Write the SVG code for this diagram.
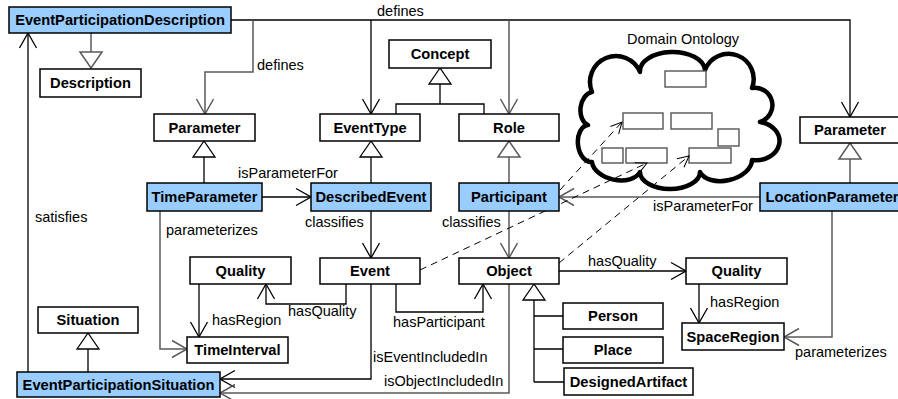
<svg xmlns="http://www.w3.org/2000/svg" width="898" height="399" viewBox="0 0 898 399">
<defs>
<style>
.n rect{fill:#fff;stroke:#000;stroke-width:1.5}
.n.b rect{fill:#99ccff}
.n text{font-family:"Liberation Sans",Arial,sans-serif;font-weight:bold;font-size:14.7px;text-anchor:middle;fill:#000}
.c{fill:none;stroke:#000;stroke-width:1.3}
.g{fill:none;stroke:#5a5a5a;stroke-width:1.5}
.d{fill:none;stroke:#000;stroke-width:1;stroke-dasharray:7 5}
.l{font-family:"Liberation Sans",Arial,sans-serif;font-size:14.5px;fill:#000}
.ir{fill:#fff;stroke:#555;stroke-width:1.4}
</style>
<marker id="ab" viewBox="-17 -10 18 20" refX="0" refY="0" markerWidth="18" markerHeight="20" markerUnits="userSpaceOnUse" orient="auto"><path d="M-15,-8.5 L0,0 L-15,8.5" fill="none" stroke="#000" stroke-width="1.3"/></marker>
<marker id="ag" viewBox="-17 -10 18 20" refX="0" refY="0" markerWidth="18" markerHeight="20" markerUnits="userSpaceOnUse" orient="auto"><path d="M-15,-8.5 L0,0 L-15,8.5" fill="none" stroke="#5a5a5a" stroke-width="1.5"/></marker>
<marker id="as" viewBox="-12 -7 13 14" refX="0" refY="0" markerWidth="13" markerHeight="14" markerUnits="userSpaceOnUse" orient="auto"><path d="M-11,-5.5 L0,0 L-11,5.5" fill="none" stroke="#000" stroke-width="1"/></marker>
<marker id="tb" viewBox="-18 -13 19 26" refX="0" refY="0" markerWidth="19" markerHeight="26" markerUnits="userSpaceOnUse" orient="auto"><path d="M0,0 L-16,-11 L-16,11 Z" fill="#fff" stroke="#000" stroke-width="1.3"/></marker>
<marker id="tg" viewBox="-18 -13 19 26" refX="0" refY="0" markerWidth="19" markerHeight="26" markerUnits="userSpaceOnUse" orient="auto"><path d="M0,0 L-16,-11 L-16,11 Z" fill="#fff" stroke="#5a5a5a" stroke-width="1.5"/></marker>
</defs>
<rect width="898" height="399" fill="#fff"/>

<g id="cloud">
<path d="M592,92 A26 26 0 0 1 640,72 A32.5 19 0 0 1 705,70 A25 25 0 0 1 752,88 A17.5 17.5 0 0 1 760,122 A19.5 16 0 0 1 752,160 A27 17 -13 0 1 700,172 A30 17 0 0 1 640,172 A25 16 12 0 1 592,162 A18.5 12 84 0 1 588,125 A17 12 -83 0 1 592,92 Z" fill="#fff" stroke="#000" stroke-width="4.5" stroke-linejoin="round"/>
<text class="l" x="627" y="44">Domain Ontology</text>
<rect class="ir" x="665" y="71" width="41" height="16"/>
<rect class="ir" x="623" y="113" width="40" height="16"/>
<rect class="ir" x="671" y="113" width="41" height="16"/>
<rect class="ir" x="718" y="129" width="21" height="17"/>
<rect class="ir" x="602" y="148" width="21" height="15"/>
<rect class="ir" x="626" y="148" width="41" height="15"/>
<rect class="ir" x="689" y="148" width="42" height="15"/>
</g>

<g id="connectors">
<path class="c" d="M231,20 H850 V117" marker-end="url(#ab)"/>
<path class="c" d="M371,20 V114" marker-end="url(#ab)"/>
<path class="g" d="M253,20 V72 H205 V114" marker-end="url(#ag)"/>
<path class="g" d="M509,20 V114" marker-end="url(#ag)"/>
<path class="g" d="M91,33 V68" marker-end="url(#tg)"/>
<path class="c" d="M396,114 V104 H484 V114"/>
<path class="c" d="M440,104 V68" marker-end="url(#tb)"/>
<path class="c" d="M204,183 V141" marker-end="url(#tb)"/>
<path class="c" d="M371,183 V141" marker-end="url(#tb)"/>
<path class="g" d="M509,183 V141" marker-end="url(#tg)"/>
<path class="g" d="M850,183 V143" marker-end="url(#tg)"/>
<path class="c" d="M88,372 V333" marker-end="url(#tb)"/>
<path class="c" d="M534,382 V284" marker-end="url(#tb)"/>
<path class="c" d="M534,316 H563 M534,349 H563 M534,382 H564"/>
<path class="c" d="M262,197 H311" marker-end="url(#ab)"/>
<path class="g" d="M760,197 H559" marker-end="url(#ag)"/>
<path class="g" d="M160,211 V349 H187" marker-end="url(#ag)"/>
<path class="c" d="M371,211 V258" marker-end="url(#ab)"/>
<path class="g" d="M509,211 V258" marker-end="url(#ag)"/>
<path class="c" d="M346,284 V304 H266 V284" marker-end="url(#ab)"/>
<path class="c" d="M199,284 V337" marker-end="url(#ab)"/>
<path class="c" d="M396,284 V312 H483 V284" marker-end="url(#ab)"/>
<path class="c" d="M371,284 V379 H220" marker-end="url(#ab)"/>
<path class="g" d="M509,284 V393 H220" marker-end="url(#ag)"/>
<path class="c" d="M28,372 V33" marker-end="url(#ab)"/>
<path class="c" d="M559,271 H686" marker-end="url(#ab)"/>
<path class="c" d="M699,284 V323" marker-end="url(#ab)"/>
<path class="g" d="M832,211 V337 H784" marker-end="url(#ag)"/>
<path class="d" d="M560,190 L622,122" marker-end="url(#as)"/>
<path class="d" d="M420,270 L647,163" marker-end="url(#as)"/>
<path class="d" d="M559,263 L689,156" marker-end="url(#as)"/>
<text class="l" x="377" y="16">defines</text>
<text class="l" x="257" y="70">defines</text>
<text class="l" x="238" y="178">isParameterFor</text>
<text class="l" x="166" y="235">parameterizes</text>
<text class="l" x="35" y="222">satisfies</text>
<text class="l" x="305" y="227">classifies</text>
<text class="l" x="442" y="227">classifies</text>
<text class="l" x="288" y="316">hasQuality</text>
<text class="l" x="212" y="325">hasRegion</text>
<text class="l" x="393" y="327">hasParticipant</text>
<text class="l" x="373" y="362">isEventIncludedIn</text>
<text class="l" x="384" y="386">isObjectIncludedIn</text>
<text class="l" x="588" y="266">hasQuality</text>
<text class="l" x="710" y="307">hasRegion</text>
<text class="l" x="795" y="357">parameterizes</text>
<text class="l" x="653" y="211">isParameterFor</text>
</g>

<g id="EventParticipationDescription" class="n b"><rect x="9" y="7" width="222" height="26"/><text x="120" y="25">EventParticipationDescription</text></g>
<g id="Description" class="n"><rect x="40" y="69" width="101" height="28"/><text x="90.5" y="88">Description</text></g>
<g id="ParameterL" class="n"><rect x="154" y="114" width="101" height="27"/><text x="204.5" y="132.5">Parameter</text></g>
<g id="Concept" class="n"><rect x="389" y="40" width="102" height="28"/><text x="440" y="59">Concept</text></g>
<g id="EventType" class="n"><rect x="320" y="114" width="100" height="27"/><text x="370" y="132.5">EventType</text></g>
<g id="Role" class="n"><rect x="459" y="114" width="100" height="27"/><text x="509" y="132.5">Role</text></g>
<g id="ParameterR" class="n"><rect x="800" y="117" width="100" height="26"/><text x="850" y="135">Parameter</text></g>
<g id="TimeParameter" class="n b"><rect x="147" y="183" width="115" height="28"/><text x="204.5" y="202">TimeParameter</text></g>
<g id="DescribedEvent" class="n b"><rect x="311" y="183" width="120" height="28"/><text x="371" y="202">DescribedEvent</text></g>
<g id="Participant" class="n b"><rect x="459" y="183" width="100" height="28"/><text x="509" y="202">Participant</text></g>
<g id="LocationParameter" class="n b"><rect x="760" y="183" width="144" height="28"/><text x="832" y="202">LocationParameter</text></g>
<g id="QualityL" class="n"><rect x="190" y="257" width="101" height="27"/><text x="240.5" y="275.5">Quality</text></g>
<g id="Event" class="n"><rect x="320" y="258" width="100" height="26"/><text x="370" y="276">Event</text></g>
<g id="Object" class="n"><rect x="459" y="258" width="100" height="26"/><text x="509" y="276">Object</text></g>
<g id="QualityR" class="n"><rect x="686" y="258" width="101" height="26"/><text x="736.5" y="276">Quality</text></g>
<g id="Person" class="n"><rect x="563" y="303" width="100" height="26"/><text x="613" y="321">Person</text></g>
<g id="Place" class="n"><rect x="563" y="337" width="100" height="26"/><text x="613" y="355">Place</text></g>
<g id="DesignedArtifact" class="n"><rect x="564" y="368" width="129" height="27"/><text x="628.5" y="386.5">DesignedArtifact</text></g>
<g id="SpaceRegion" class="n"><rect x="682" y="323" width="102" height="27"/><text x="733" y="341.5">SpaceRegion</text></g>
<g id="Situation" class="n"><rect x="38" y="307" width="100" height="26"/><text x="88" y="325">Situation</text></g>
<g id="TimeInterval" class="n"><rect x="187" y="337" width="101" height="26"/><text x="237.5" y="355">TimeInterval</text></g>
<g id="EventParticipationSituation" class="n b"><rect x="17" y="372" width="203" height="25"/><text x="118.5" y="389.5">EventParticipationSituation</text></g>
</svg>
